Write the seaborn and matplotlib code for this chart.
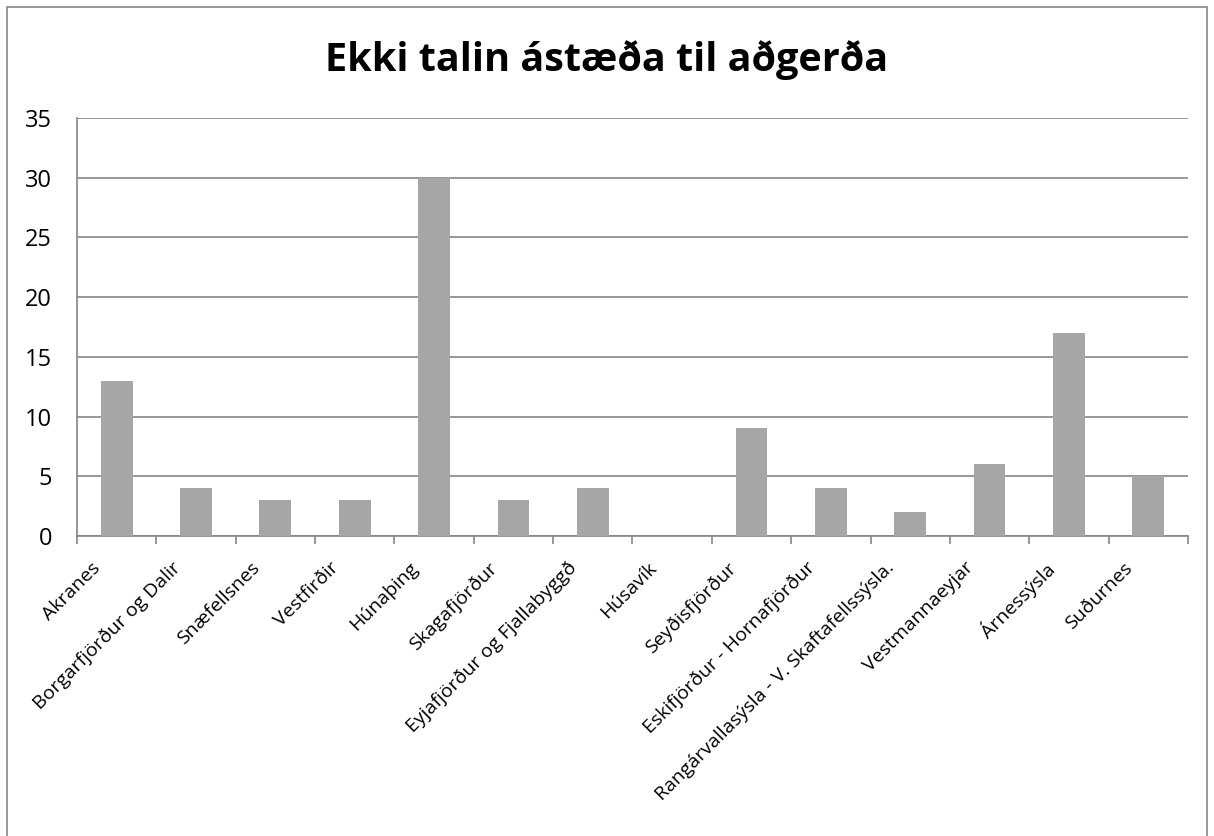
"""
Súlurit: Ekki talin ástæða til aðgerða
"""

import matplotlib
matplotlib.use("Agg")
import matplotlib.pyplot as plt
import matplotlib.transforms as mtransforms
from matplotlib.patches import Rectangle
import numpy as np
import pandas as pd
import seaborn as sns

# Gögn
svaedi = [
    "Akranes", "Borgarfjörður og Dalir", "Snæfellsnes", "Vestfirðir",
    "Húnaþing", "Skagafjörður", "Eyjafjörður og Fjallabyggð", "Húsavík",
    "Seyðisfjörður", "Eskifjörður - Hornafjörður",
    "Rangárvallasýsla - V. Skaftafellssýsla.", "Vestmannaeyjar",
    "Árnessýsla", "Suðurnes",
]
fjoldi = [13, 4, 3, 3, 30, 3, 4, 0, 9, 4, 2, 6, 17, 5]
y_ticks = [0, 5, 10, 15, 20, 25, 30, 35]

GREY = "#868686"
BAR = "#A6A6A6"

sns.set_theme(style="white")
plt.rcParams["font.family"] = ["Open Sans", "DejaVu Sans"]
plt.rcParams["text.color"] = "black"

df = pd.DataFrame({"Svæði": svaedi, "Fjöldi": fjoldi})

fig = plt.figure(figsize=(12.14, 8.36), dpi=100)
ax = fig.add_axes([0.0634, 0.3589, 0.9152, 0.5])

sns.barplot(data=df, x="Svæði", y="Fjöldi", color=BAR, width=0.4,
            saturation=1, linewidth=0, ax=ax, zorder=3)

ax.set_ylim(0, 35)
ax.set_xlim(-0.5, len(svaedi) - 0.5)
ax.set_yticks(y_ticks)
ax.set_yticklabels([str(v) for v in y_ticks], fontsize=17, color="black")
ax.yaxis.grid(True, color=GREY, linewidth=1.2, zorder=0)
ax.tick_params(axis="y", length=8, width=1.2, color=GREY, pad=10)

ax.set_xticks(range(len(svaedi)))
ax.set_xticklabels(svaedi, rotation=45, ha="right", va="top",
                   rotation_mode="anchor", fontsize=14, color="black")
ax.tick_params(axis="x", which="major", length=0, pad=12)
shift = mtransforms.ScaledTranslation(-0.25, -0.06, fig.dpi_scale_trans)
for lbl in ax.get_xticklabels():
    lbl.set_transform(lbl.get_transform() + shift)
ax.set_xticks(np.arange(-0.5, len(svaedi)), minor=True)
ax.tick_params(axis="x", which="minor", length=6, width=1.2, color=GREY,
               bottom=True)

for side in ["top", "right"]:
    ax.spines[side].set_visible(False)
for side in ["left", "bottom"]:
    ax.spines[side].set_color(GREY)
    ax.spines[side].set_linewidth(1.2)

ax.set_xlabel("")
ax.set_ylabel("")
fig.text(0.5, 1 - 60 / 836, "Ekki talin ástæða til aðgerða", fontsize=28.5,
         fontweight="bold", ha="center", va="center", color="black")

# Rammi utan um myndina
fig.patches.append(Rectangle((0.006, -0.05), 0.988, 1.042,
                             transform=fig.transFigure, fill=False,
                             edgecolor=GREY, linewidth=1.2))

fig.savefig("out.png", dpi=100, facecolor="white")
